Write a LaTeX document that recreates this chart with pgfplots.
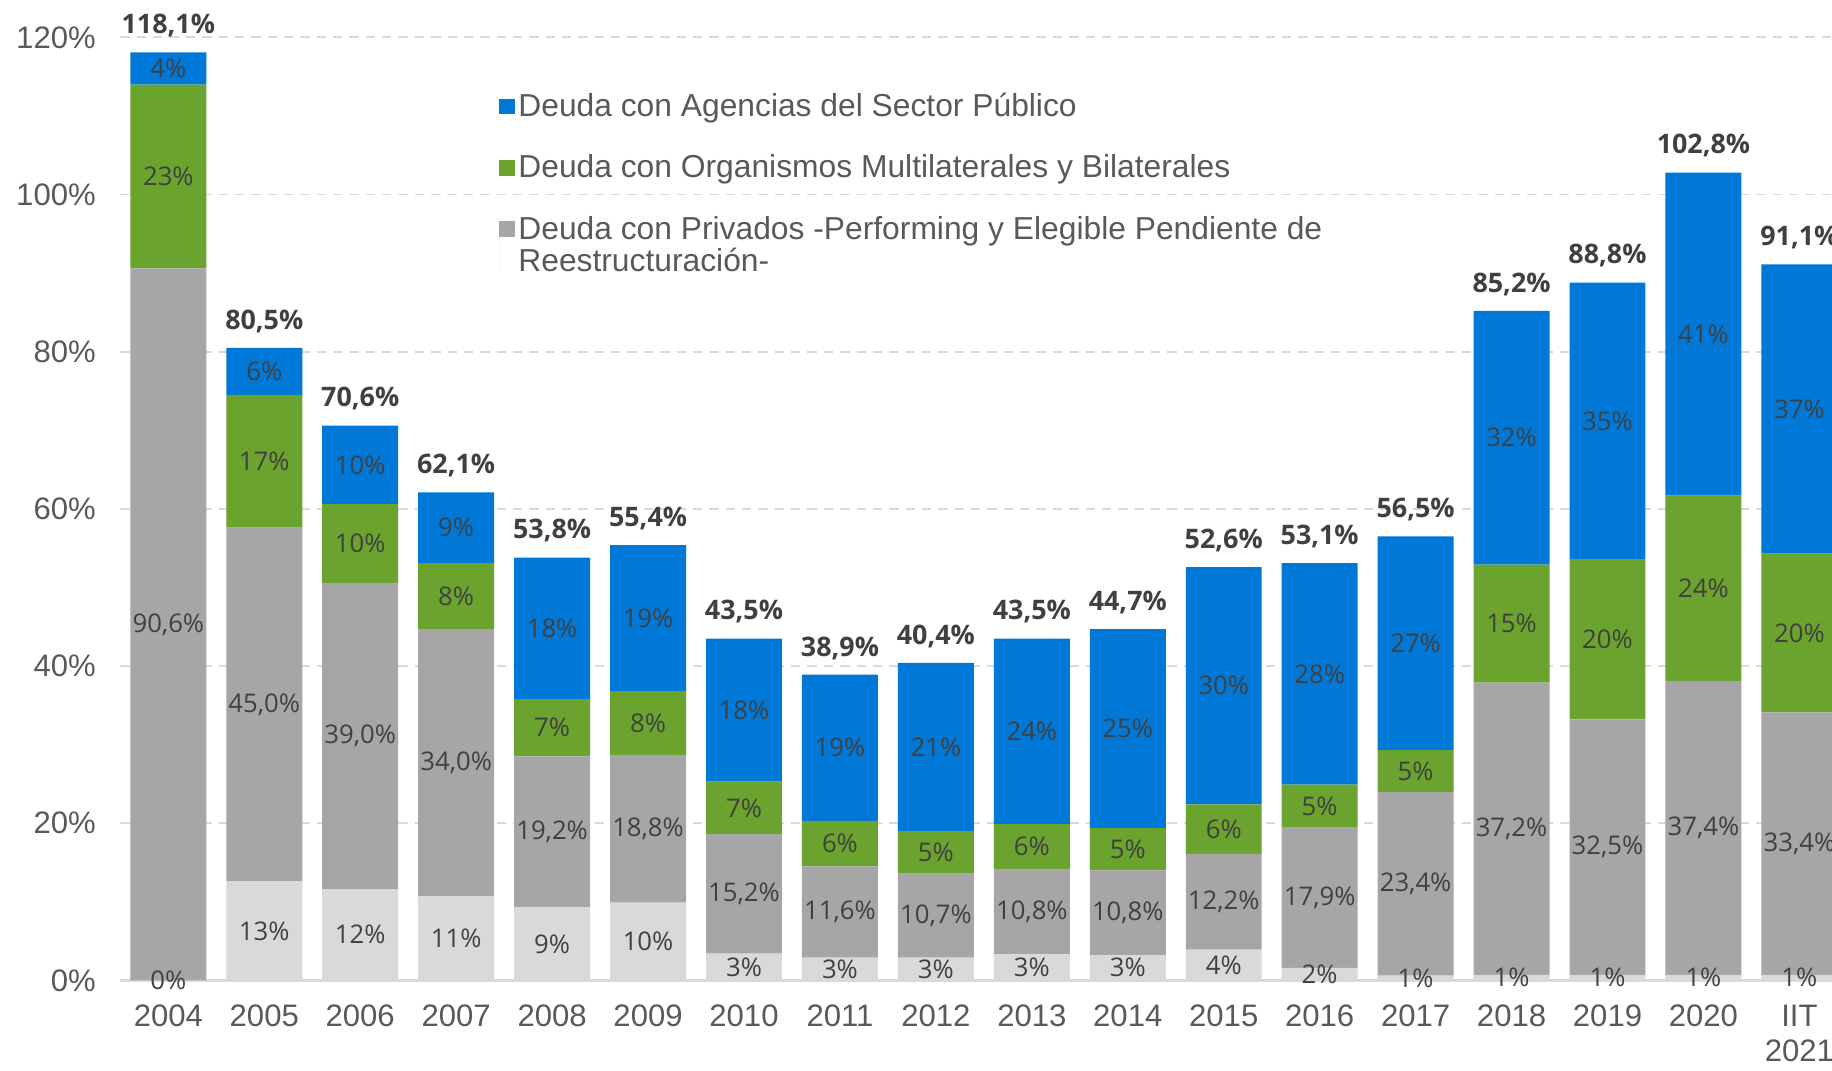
\documentclass[border=0pt]{standalone}
\usepackage{pgfplots}
\pgfplotsset{compat=1.18}
\usepackage{pgfplotstable}
\usepackage{fontspec}
\setmainfont{Liberation Sans}
\newfontfamily\osans{Open Sans}

\definecolor{cblue}{HTML}{0078D7}
\definecolor{cgreen}{HTML}{6AA32E}
\definecolor{cgray}{HTML}{A6A6A6}
\definecolor{clight}{HTML}{D9D9D9}
\definecolor{gridc}{HTML}{D9D9D9}
\definecolor{txt}{HTML}{595959}
\definecolor{lbl}{HTML}{404040}

% columns: segment heights (stacked bottom to top) and the labels shown on them
\pgfplotstableread{
x  light gray green blue z  Llight Lgray Lgreen Lblue Ltot
0  0.0  90.6 23.4  4.1  0  0      90,6  23     4     118,1
1  12.6 45.0 16.9  6.0  0  13     45,0  17     6     80,5
2  11.6 39.0 10.0  10.0 0  12     39,0  10     10    70,6
3  10.7 34.0 8.4   9.0  0  11     34,0  8      9     62,1
4  9.3  19.2 7.3   18.0 0  9      19,2  7      18    53,8
5  9.9  18.8 8.1   18.6 0  10     18,8  8      19    55,4
6  3.4  15.2 6.7   18.2 0  3      15,2  7      18    43,5
7  2.9  11.6 5.8   18.6 0  3      11,6  6      19    38,9
8  2.9  10.7 5.4   21.4 0  3      10,7  5      21    40,4
9  3.3  10.8 5.8   23.6 0  3      10,8  6      24    43,5
10 3.2  10.8 5.4   25.3 0  3      10,8  5      25    44,7
11 3.9  12.2 6.3   30.2 0  4      12,2  6      30    52,6
12 1.6  17.9 5.4   28.2 0  2      17,9  5      28    53,1
13 0.6  23.4 5.3   27.2 0  1      23,4  5      27    56,5
14 0.7  37.2 15.0  32.3 0  1      37,2  15     32    85,2
15 0.7  32.5 20.4  35.2 0  1      32,5  20     35    88,8
16 0.7  37.4 23.6  41.1 0  1      37,4  24     41    102,8
17 0.7  33.4 20.2  36.8 0  1      33,4  20     37    91,1
}\data

\pgfplotsset{
  seg/.style={
    fill=#1, draw=none,
    nodes near coords={\pgfplotspointmeta\%},
    every node near coord/.style={anchor=center,
      font=\osans\fontsize{11}{13}\selectfont, text=lbl},
  },
  graylegend/.style={legend image code/.code={\path (0pt,-10.3pt) -- (0pt,10.3pt);
      \fill[cgray] (0pt,3.7pt) rectangle (6.6pt,10.3pt);}},
}

\begin{document}
\begin{tikzpicture}
\useasboundingbox (-51.5pt,-38.5pt) rectangle (732.4pt,419.5pt);
\begin{axis}[
    scale only axis,
    width=732.4pt, height=403.5pt,
    ybar stacked, bar width=32.5pt,
    stacked ignores zero=false,
    xmin=-0.5, xmax=17.34, ymin=0, ymax=120,
    enlargelimits=false, clip=false,
    point meta=explicit symbolic,
    axis lines*=left,
    x axis line style={draw=gridc, line width=1pt},
    y axis line style={draw=none},
    major tick length=0pt,
    ymajorgrids,
    major grid style={draw=gridc, line width=0.8pt, dash pattern=on 4pt off 3pt},
    ytick={0,20,...,120},
    yticklabels={0\%,20\%,40\%,60\%,80\%,100\%,120\%},
    xtick={0,...,17},
    xticklabels={2004,2005,2006,2007,2008,2009,2010,2011,2012,2013,2014,2015,2016,2017,2018,2019,2020,{IIT\\2021}},
    tick label style={font=\fontsize{13.3}{15}\selectfont, text=txt},
    xticklabel style={align=center, yshift=-7pt},
    yticklabel style={xshift=-7pt},
    legend style={draw=none, fill=none, at={(0.2212,0.9455)}, anchor=north west,
      font=\fontsize{13.6}{13.6}\selectfont, text=txt, row sep=12pt, inner sep=0pt,
      nodes={inner sep=1.5pt, align=left}},
    legend cell align=left,
    reverse legend,
    legend image code/.code={\fill[#1] (0pt,-3.3pt) rectangle (6.6pt,3.3pt);},
]
\addplot[seg=clight, forget plot] table[x=x, y=light, meta=Llight] {\data};
\addplot[seg=cgray, graylegend] table[x=x, y=gray, meta=Lgray] {\data};
\addlegendentry{Deuda con Privados -Performing y Elegible Pendiente de\\Reestructuración-}
\addplot[seg=cgreen] table[x=x, y=green, meta=Lgreen] {\data};
\addlegendentry{Deuda con Organismos Multilaterales y Bilaterales}
\addplot[seg=cblue] table[x=x, y=blue, meta=Lblue] {\data};
\addlegendentry{Deuda con Agencias del Sector Público}
\addplot[fill=none, draw=none, forget plot,
    nodes near coords={\pgfplotspointmeta\%},
    every node near coord/.style={anchor=base, yshift=8pt,
      font=\osans\bfseries\fontsize{11.5}{13}\selectfont, text=lbl}]
    table[x=x, y=z, meta=Ltot] {\data};
\end{axis}
\end{tikzpicture}
\end{document}
